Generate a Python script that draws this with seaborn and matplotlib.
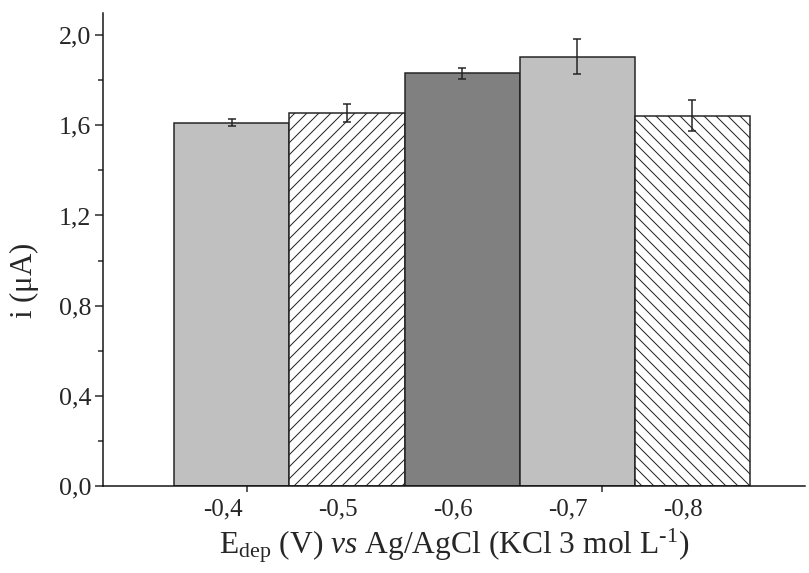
import numpy as np
import pandas as pd
import matplotlib
matplotlib.use('Agg')
import matplotlib.pyplot as plt
import matplotlib.transforms as mtransforms
from matplotlib.ticker import FuncFormatter, MultipleLocator, FixedLocator
import seaborn as sns

# Data
potentials = ['-0,4', '-0,5', '-0,6', '-0,7', '-0,8']
current = [1.611, 1.654, 1.830, 1.904, 1.642]
current_err = [0.016, 0.040, 0.024, 0.078, 0.069]
bar_colors = ['#c0c0c0', '#ffffff', '#808080', '#c0c0c0', '#ffffff']
bar_hatches = ['', '//', '', '', '\\\\']

sns.set_style('ticks')
plt.rcParams['font.family'] = ['Liberation Serif', 'DejaVu Serif']
plt.rcParams['mathtext.fontset'] = 'custom'
plt.rcParams['mathtext.rm'] = 'Liberation Serif'
plt.rcParams['mathtext.it'] = 'Liberation Serif:italic'
plt.rcParams['hatch.linewidth'] = 1.0
plt.rcParams['hatch.color'] = '#222222'

df = pd.DataFrame({'E': potentials, 'i': current, 'err': current_err})

fig = plt.figure(figsize=(809 / 72, 573 / 72), dpi=72)
ax = fig.add_axes([103 / 809, 1 - 486 / 573, (805 - 103) / 809, (486 - 13) / 573])

sns.barplot(data=df, x='E', y='i', hue='E', palette=bar_colors, legend=False,
            width=1.0, edgecolor='#222222', linewidth=1.5, saturation=1, ax=ax)
for patch, h in zip(ax.patches, bar_hatches):
    patch.set_hatch(h)

ax.errorbar(np.arange(len(potentials)), df['i'], yerr=df['err'], fmt='none',
            ecolor='#222222', elinewidth=1.5, capsize=4, capthick=1.5)

ax.set_xlim(-1.12, 4.98)
ax.set_ylim(0, 2.098)

ax.yaxis.set_major_locator(MultipleLocator(0.4))
ax.yaxis.set_minor_locator(MultipleLocator(0.2))
ax.yaxis.set_major_formatter(FuncFormatter(lambda v, p: f'{v:.1f}'.replace('.', ',')))
ax.tick_params(axis='y', which='major', length=8, width=1.5, labelsize=26, pad=4, direction='out')
ax.tick_params(axis='y', which='minor', length=5, width=1.5, direction='out')

ax.tick_params(axis='x', which='major', length=0, labelsize=25, pad=12)
ax.xaxis.set_minor_locator(FixedLocator([0.13, 3.22]))
ax.tick_params(axis='x', which='minor', length=6, width=1.5, direction='out')
shift = mtransforms.ScaledTranslation(-9 / 72, 0, fig.dpi_scale_trans)
for lbl in ax.get_xticklabels():
    lbl.set_transform(lbl.get_transform() + shift)

for s in ['top', 'right']:
    ax.spines[s].set_visible(False)
for s in ['left', 'bottom']:
    ax.spines[s].set_linewidth(1.5)
    ax.spines[s].set_color('#111111')

ax.set_xlabel(r'E$_{\mathrm{dep}}$ (V) $\it{vs}$ Ag/AgCl (KCl 3 mol L$^{\text{-1}}$)',
              fontsize=31.5, labelpad=6)
ax.set_ylabel(r'i ($\mathrm{\mu}$A)', fontsize=31, labelpad=12)
ax.yaxis.set_label_coords(-0.088, 0.435)

fig.savefig('out.png', dpi=72)
